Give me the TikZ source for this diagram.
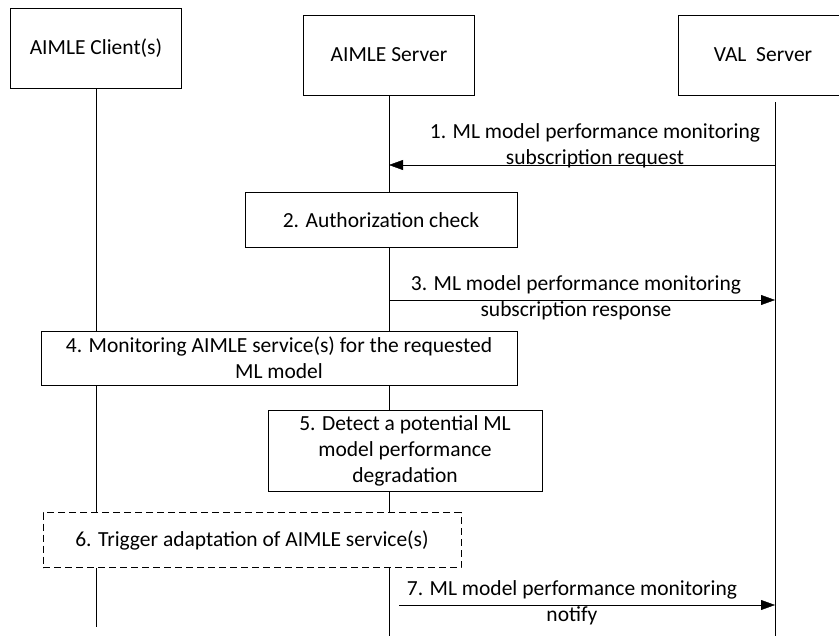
\documentclass[tikz,border=0pt]{standalone}
\usepackage{fontspec}
\setmainfont{Carlito}
\usetikzlibrary{arrows.meta, positioning}

\begin{document}
\begin{tikzpicture}[
    x=1pt, y=-1pt,
    font=\fontsize{21.5}{26}\selectfont,
    actor/.style={
        rectangle, draw, thin, fill=white,
        minimum width=171pt, minimum height=80pt,
        align=center, inner sep=0pt
    },
    stepbox/.style={
        rectangle, draw, thin, fill=white,
        align=center, inner sep=0pt
    },
    optbox/.style={stepbox, dashed, dash pattern=on 7pt off 4pt},
    lifeline/.style={thin},
    msg/.style={-{Triangle[length=14pt, width=10pt]}, thin},
    msglabel/.style={align=center, inner sep=0pt}
]
\useasboundingbox (0,0) rectangle (839,637);

% Actors
\node[actor] (client) at (96,48) {AIMLE Client(s)};
\node[actor] (server) at (389,55) {AIMLE Server};
\node[actor, minimum width=170pt] (val) at (763,55) {VAL\ \ Server};

% Lifeline ends
\coordinate (clientend) at (96,627);
\coordinate (serverend) at (389,636);
\coordinate (valtop) at (775,102);
\coordinate (valend) at (775,636);

% Lifelines
\draw[lifeline] (client.south) -- (clientend);
\draw[lifeline] (server.south) -- (serverend);
\draw[lifeline] (valtop) -- (valend);

% Message points on the lifelines
\coordinate (m1a) at (775,165);
\coordinate (m1b) at (389,165);
\coordinate (m3a) at (389,300);
\coordinate (m3b) at (775,300);
\coordinate (m7a) at (399,605);
\coordinate (m7b) at (775,605);

% Step boxes
\node[stepbox, minimum width=272pt, minimum height=55pt] (auth) at (381,220) {2. Authorization check};
\node[stepbox, minimum width=476pt, minimum height=54pt] (monitor) at (279,358) {4. Monitoring AIMLE service(s) for the requested\\ML model};
\node[stepbox, minimum width=274pt, minimum height=81pt] (detect) at (405,451) {5. Detect a potential ML\\model performance\\degradation};
\node[optbox, minimum width=418pt, minimum height=55pt] (trigger) at (252,540) {6. Trigger adaptation of AIMLE service(s)};

% Messages
\draw[msg] (m1a) -- (m1b);
\node[msglabel] (l1) at (595,146) {1. ML model performance monitoring\\subscription request};
\draw[msg] (m3a) -- (m3b);
\node[msglabel] (l3) at (576,298) {3. ML model performance monitoring\\subscription response};
\draw[msg] (m7a) -- (m7b);
\node[msglabel] (l7) at (572,603) {7. ML model performance monitoring\\notify};

\end{tikzpicture}
\end{document}
